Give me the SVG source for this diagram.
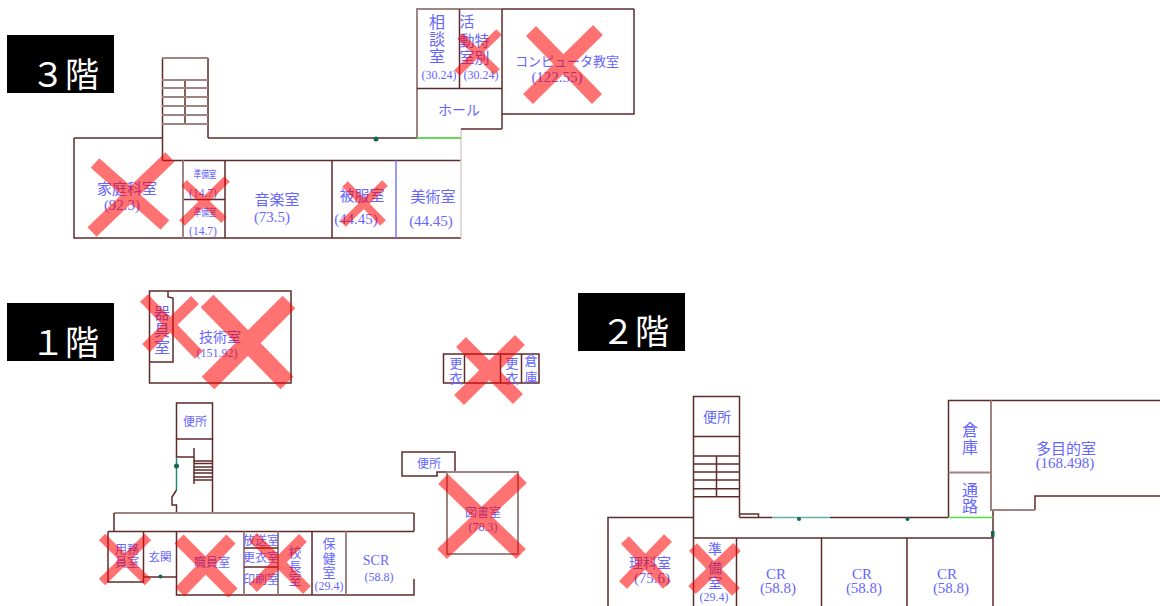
<svg xmlns="http://www.w3.org/2000/svg" width="1160" height="606" viewBox="0 0 1160 606">
<style>
text{font-family:"Liberation Serif","Noto Sans CJK JP",serif;fill:#6666ff;text-anchor:middle;dominant-baseline:central}
.f{font-family:"Noto Sans CJK JP","Noto Sans",sans-serif;fill:#fff;font-size:34px;text-anchor:start}
.s{font-size:12px}.m{font-size:14px}.l{font-size:15px}.t{font-size:11.5px}.v{font-size:16px}
path,rect.r{fill:none;stroke:#5e2a2a;stroke-width:1.5}
.g{stroke:#a08484!important;stroke-width:2!important}
.x path{stroke:#ff0000}
.x g{opacity:.55}
.x8 path{stroke-width:8}.x9 path{stroke-width:9}.x11 path{stroke-width:11}.x13 path{stroke-width:13}.x14 path{stroke-width:14}.x18 path{stroke-width:18}
</style>
<rect width="1160" height="606" fill="#fff"/>

<g id="floor3">
<rect x="7" y="35" width="107" height="58" fill="#000"/>
<text class="f" x="31" y="72">３階</text>
<path d="M162.5 58V160.5M208 58V138M74 138H162.5M208 138H417M74 138V238H461M162.5 160.5H461M225 160.5V238M332 160.5V238M183 199.5H225M185 80V124"/>
<path class="g" d="M162 58H208M162 80H208M162 88H208M162 97H208M162 106H208M162 115H208M162 124H208M183 160.5V238"/>
<path d="M396 160.5V238" style="stroke:#7a7aff"/>
<path d="M461 129V238" style="stroke:#d8cccc"/>
<path d="M417 138H461" style="stroke:#33cc22"/>
<circle cx="376" cy="139" r="2.5" fill="#116655"/>
<path class="g" d="M417 138V9H502"/>
<path d="M459.5 9V88.5M417 88.5H502M502 9V129M461 129H502M502 114H634V9M502 9H634"/>
<text class="v" x="437" y="22">相</text><text class="v" x="437" y="39">談</text><text class="v" x="437" y="56">室</text>
<text class="s" x="439" y="75">(30.24)</text>
<text class="l" x="467" y="22">活</text><text class="l" x="467" y="41">動</text><text class="l" x="482" y="41">特</text><text class="l" x="467" y="58">室</text><text class="l" x="482" y="58">別</text>
<text class="s" x="481" y="75">(30.24)</text>
<text style="font-size:13px" x="567" y="61">コンピュータ教室</text>
<text class="l" x="557" y="77">(122.55)</text>
<text class="m" x="459" y="110">ホール</text>
<text class="l" x="127" y="189">家庭科室</text><text class="l" x="122" y="205">(92.3)</text>
<text style="font-size:10px" x="205" y="174" textLength="23" lengthAdjust="spacingAndGlyphs">準備室</text><text class="t" x="203" y="193">(14.7)</text>
<text style="font-size:10px" x="205" y="212" textLength="23" lengthAdjust="spacingAndGlyphs">準備室</text><text class="t" x="203" y="231">(14.7)</text>
<text class="l" x="277" y="200">音楽室</text><text class="l" x="272" y="217">(73.5)</text>
<text class="l" x="362" y="196">被服室</text><text class="l" x="356" y="219">(44.45)</text>
<text class="l" x="433" y="197">美術室</text><text class="l" x="431" y="221">(44.45)</text>
</g>

<g id="floor1">
<rect x="7" y="303" width="107" height="58" fill="#000"/>
<text class="f" x="31" y="340">１階</text>
<rect class="r" x="149.5" y="291" width="141.5" height="92"/>
<path d="M168 291V297L173 298V362H149.5"/>
<text class="v" x="162" y="313">器</text><text class="v" x="162" y="330">具</text><text class="v" x="162" y="347">室</text>
<text class="m" x="220" y="337">技術室</text><text class="s" x="217" y="353">(151.92)</text>
<rect class="r" x="176.5" y="403" width="36" height="36"/>
<path d="M212.5 439V513M176.5 439V457H194M194 448V484M176.5 490L172 497V505H176.5V513"/>
<path d="M176.5 457V490" style="stroke:#228877"/>
<circle cx="176.5" cy="466" r="2.5" fill="#116655"/>
<path d="M194 461H212.5M194 463.5H212.5M194 467H212.5M194 470H212.5M194 473H212.5M194 477H212.5M194 480H212.5"/>
<path class="g" d="M114 513H414"/>
<path d="M114 513V531.5M414 513V531.5M108 531.5H414M108 531.5V582H143.5V531.5M143.5 577H176.5M176.5 531.5V595H414V579M312 531.5V595"/>
<path class="g" d="M244 531.5V595M278 531.5V595M346 531.5V595"/>
<path d="M244 548H278M244 567H278"/>
<circle cx="160.5" cy="576.5" r="2" fill="#116655"/>
<text class="s" x="195" y="422">便所</text>
<text class="s" x="127" y="550">用務</text><text class="s" x="127" y="563">員室</text>
<text class="t" x="160" y="557">玄関</text>
<text class="s" x="212" y="563">職員室</text>
<text class="s" x="261" y="541">放送室</text><text class="s" x="261" y="558">更衣室</text><text class="s" x="261" y="580">印刷室</text>
<text style="font-size:13px" x="295" y="552">校</text><text style="font-size:13px" x="295" y="566">長</text><text style="font-size:13px" x="295" y="579">室</text>
<text style="font-size:13px" x="329" y="543">保</text><text style="font-size:13px" x="329" y="558">健</text><text style="font-size:13px" x="329" y="572">室</text>
<text class="s" x="329" y="586">(29.4)</text>
<text class="m" x="376" y="560">SCR</text><text class="s" x="379" y="577">(58.8)</text>
<path d="M437 476H402V452H455V472H437Z"/>
<text class="s" x="429" y="464">便所</text>
<rect class="r g" x="447" y="472" width="71" height="82"/>
<text class="s" x="483" y="513">図書室</text><text class="s" x="483" y="527">(78.3)</text>
<rect class="r" x="443.5" y="354" width="95.5" height="29"/>
<path d="M464.5 354V383M500.5 354V383M521.5 354V383"/>
<text style="font-size:13px" x="456" y="363">更</text><text style="font-size:13px" x="456" y="378">衣</text>
<text style="font-size:13px" x="512" y="363">更</text><text style="font-size:13px" x="512" y="378">衣</text>
<text style="font-size:13px" x="531" y="360">倉</text><text style="font-size:13px" x="531" y="377">庫</text>
</g>

<g id="floor2">
<rect x="578" y="293" width="107" height="58" fill="#000"/>
<text class="f" x="601" y="329">２階</text>
<rect class="r" x="693.5" y="396.5" width="46" height="40"/>
<path d="M693.5 436.5V606M739.5 436.5V517.5M693.5 456H739.5M693.5 464H739.5M693.5 472H739.5M693.5 480H739.5M693.5 488.7H739.5M693.5 496.7H739.5M716.5 456V496.7"/>
<path d="M608 606V517.5H693.5M739.5 517.5H772M739.5 514H758.5V517.5M830 517.5H948M693.5 538H993M993 510V606M736.5 538V606M821.5 538V606M907 538V606"/>
<path d="M772 517.5H830" style="stroke:#66b0a8"/>
<path d="M948 517.5H993" style="stroke:#55dd44"/>
<circle cx="799" cy="519" r="2" fill="#116655"/><circle cx="907.5" cy="519" r="2" fill="#116655"/><rect x="991" y="531" width="3.5" height="6" fill="#116655"/>
<path d="M948.5 517V400.5H1160M1035 510V496H1160"/>
<path class="g" d="M991 400.5V510H1035M948.5 472.5H991"/>
<text class="m" x="717" y="417">便所</text>
<text class="v" x="970" y="430">倉</text><text class="v" x="970" y="447">庫</text>
<text class="v" x="970" y="490">通</text><text class="v" x="970" y="506">路</text>
<text class="l" x="1066" y="449">多目的室</text><text class="l" x="1065" y="463">(168.498)</text>
<text class="m" x="650" y="563">理科室</text><text class="l" x="652" y="578">(75.6)</text>
<text class="m" x="715" y="549">準</text><text class="m" x="715" y="568">備</text><text class="m" x="715" y="583">室</text>
<text class="s" x="714" y="597">(29.4)</text>
<text class="l" x="776" y="574">CR</text><text class="l" x="778" y="588">(58.8)</text>
<text class="l" x="862" y="574">CR</text><text class="l" x="864" y="588">(58.8)</text>
<text class="l" x="947" y="574">CR</text><text class="l" x="951" y="588">(58.8)</text>
</g>

<g id="crosses" class="x">
<g class="x13"><path d="M95 163L165 225"/><path d="M170 157L92 232"/></g>
<g class="x8"><path d="M184 183L224 220"/><path d="M227 179L182 223"/></g>
<g class="x8"><path d="M345 184L383 223"/><path d="M385 183L343 224"/></g>
<g class="x8"><path d="M460 36L497 72"/><path d="M499 32L457 73"/></g>
<g class="x14"><path d="M531 31L597 99"/><path d="M598 30L528 99"/></g>
<g class="x11"><path d="M144 298L199 355"/><path d="M195 300L146 348"/></g>
<g class="x18"><path d="M207 301L287 383"/><path d="M289 302L208 383"/></g>
<g class="x9"><path d="M102 537L148 582"/><path d="M148 537L102 582"/></g>
<g class="x13"><path d="M179 539L233 593"/><path d="M231 539L180 592"/></g>
<g class="x11"><path d="M253 537L307 590"/><path d="M303 538L253 588"/></g>
<g class="x14"><path d="M443 479L521 554"/><path d="M522 478L442 554"/></g>
<g class="x14"><path d="M461 342L518 399"/><path d="M520 340L459 400"/></g>
<g class="x11"><path d="M625 540L667 585"/><path d="M668 538L623 585"/></g>
<g class="x11"><path d="M693 547L736 592"/><path d="M737 547L692 590"/></g>
</g>
</svg>
